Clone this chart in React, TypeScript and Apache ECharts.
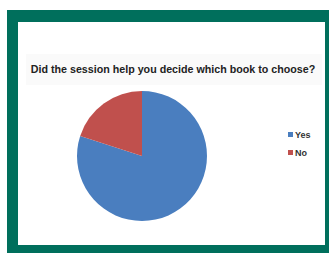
import React, { useEffect, useRef } from "react";
import * as echarts from "echarts";

const categories = ["Yes", "No"];
const values = [80, 20];
const colors = ["#4a7ebf", "#c0504d"];
const titleText = "Did the session help you decide which book to choose?";

export default function App() {
  const ref = useRef<HTMLDivElement>(null);
  useEffect(() => {
    if (!ref.current) return;
    const chart = echarts.init(ref.current, undefined, { renderer: "svg" });
    chart.setOption({
      animation: false,
      backgroundColor: "#ffffff",
      graphic: [
        { type: "rect", z: -10, shape: { x: 7, y: 10, width: 330, height: 250 }, style: { fill: "#006f5c" } },
        { type: "rect", z: -9, shape: { x: 18, y: 22, width: 307, height: 223 }, style: { fill: "#ffffff" } },
        { type: "rect", z: -8, shape: { x: 26, y: 54, width: 296, height: 31 }, style: { fill: "#fafafa" } },
        {
          type: "text",
          x: 173,
          y: 69,
          style: {
            text: titleText,
            align: "center",
            verticalAlign: "middle",
            fontFamily: "Liberation Sans",
            fontSize: 10.7,
            fontWeight: "bold",
            fill: "#222",
          },
        },
      ],
      legend: {
        data: categories,
        orient: "vertical",
        left: 283,
        top: 125,
        itemWidth: 5,
        itemHeight: 5,
        itemGap: 9,
        icon: "rect",
        textStyle: { fontFamily: "Liberation Sans", fontSize: 9, fontWeight: "bold", color: "#333", padding: [0, 0, 0, -3] },
      },
      series: [
        {
          type: "pie",
          center: [142, 156],
          radius: 65,
          startAngle: 90,
          clockwise: true,
          label: { show: false },
          labelLine: { show: false },
          itemStyle: { borderWidth: 0 },
          data: categories.map((c, i) => ({ name: c, value: values[i], itemStyle: { color: colors[i] } })),
        },
      ],
    });
    return () => chart.dispose();
  }, []);
  return <div ref={ref} style={{ position: "absolute", left: 0, top: 0, width: 329, height: 253 }} />;
}
